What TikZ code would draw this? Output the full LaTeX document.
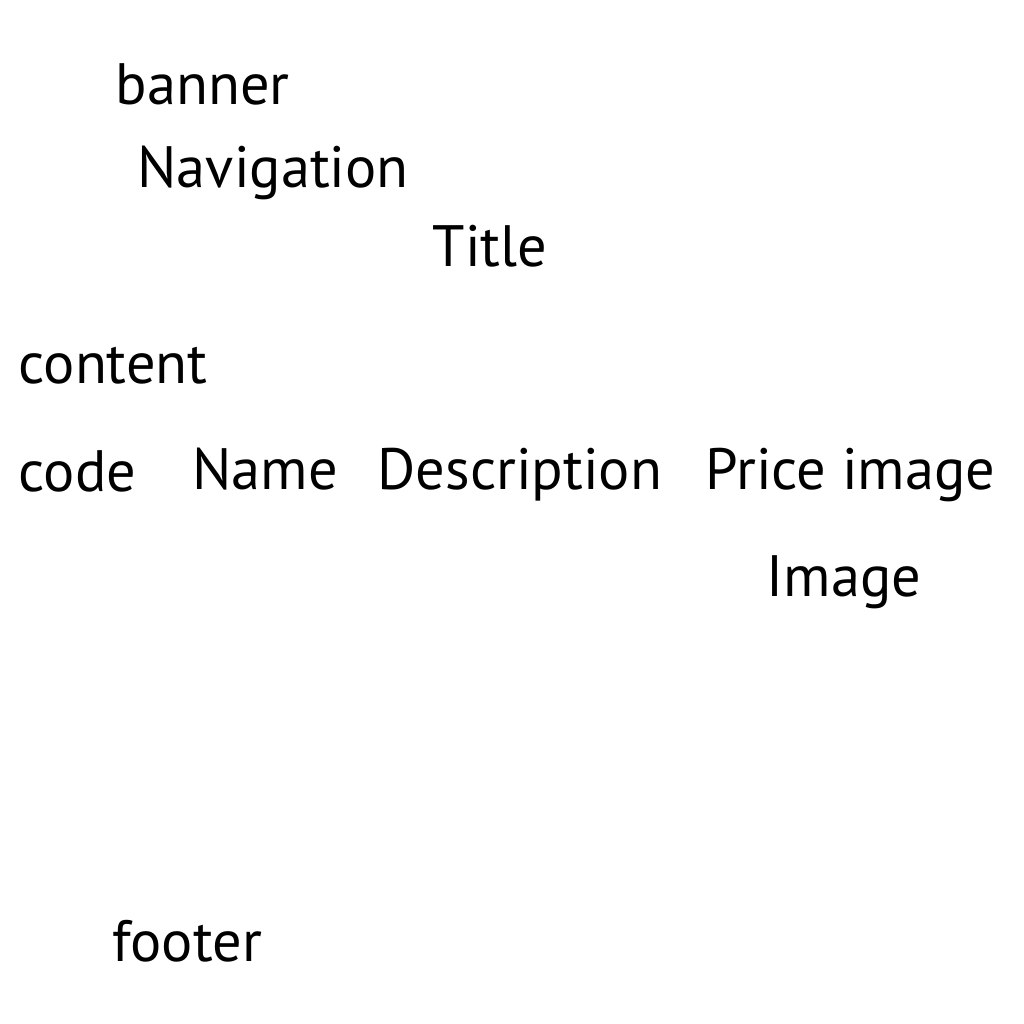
\documentclass[tikz,border=0pt]{standalone}
\usepackage{fontspec}
\setmainfont{PT Sans}
\usepackage{tikz}

\begin{document}
\begin{tikzpicture}[x=0.01cm, y=-0.01cm, every node/.style={anchor=base west, inner sep=0pt, font=\fontsize{16.6}{19}\selectfont}]
            \useasboundingbox (0, 0) rectangle (1024, 1024);
            \draw (115, 104) node(banner){banner};
            \draw (137, 187) node(nav){Navigation};
            \draw (432, 266) node(title){Title};
            \draw (18, 383) node(content){content};
            \draw (18, 491) node(code){code};
            \draw (192, 489) node(name){Name};
            \draw (377, 489) node(desc){Description};
            \draw (705, 489) node(price){Price image};
            \draw (766, 596) node(image){Image};
            \draw (112, 961) node(footer){footer};
        \end{tikzpicture}
\end{document}
